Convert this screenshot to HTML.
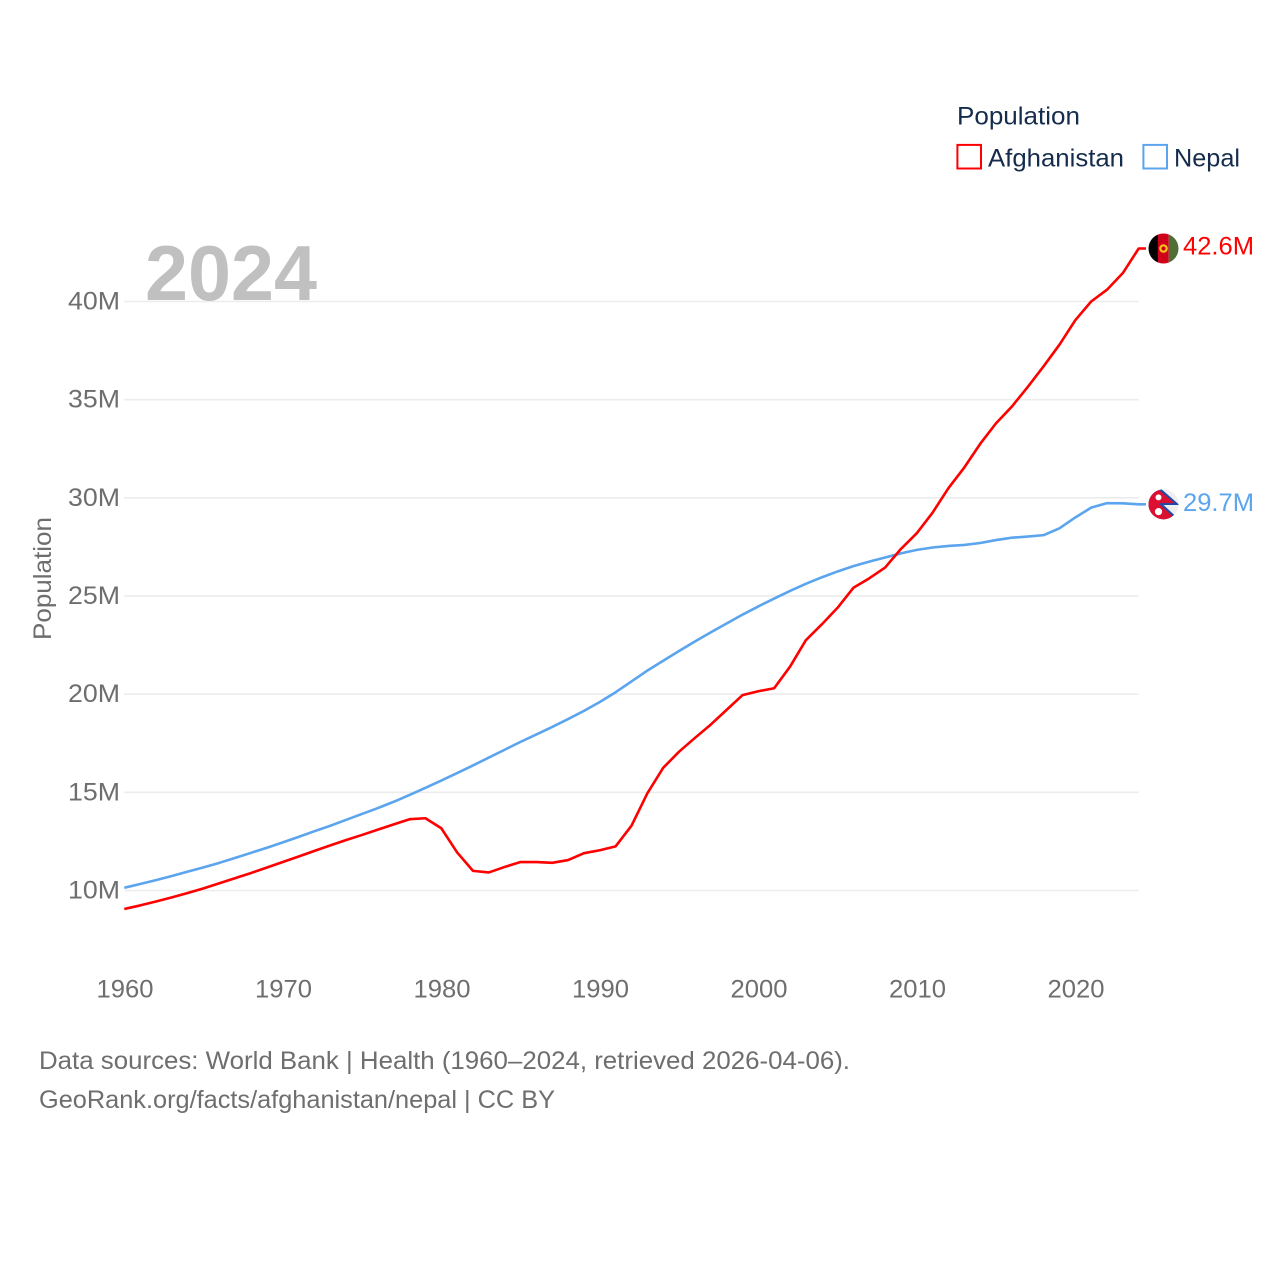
<!DOCTYPE html>
<html lang="en">
<head>
<meta charset="utf-8">
<title>Population: Afghanistan and Nepal</title>
<style>
html,body{margin:0;padding:0;background:#fff;width:1280px;height:1280px;overflow:hidden}
svg{display:block}
text{font-family:"Liberation Sans",sans-serif}
</style>
</head>
<body>
<svg id="chart" xmlns="http://www.w3.org/2000/svg" width="1280" height="1280" viewBox="0 0 1280 1280">
  <defs>
    <clipPath id="flag-clip"><circle cx="0" cy="0" r="15"/></clipPath>
  </defs>
  <rect x="0" y="0" width="1280" height="1280" fill="#fff"/>
  <g id="grid"></g>
  <g id="yticks"></g>
  <g id="xticks"></g>
  <text x="145" y="300" font-size="78" font-weight="700" fill="#c0c0c0" textLength="172" lengthAdjust="spacingAndGlyphs">2024</text>
  <text transform="translate(51,640) rotate(-90)" font-size="25" fill="#6e6e6e" textLength="123" lengthAdjust="spacingAndGlyphs">Population</text>
  <g id="series"></g>
  <g id="ends"></g>
  <g>
    <text x="957" y="124.5" font-size="25" fill="#152c4c" textLength="123" lengthAdjust="spacingAndGlyphs">Population</text>
    <rect x="957.4" y="144.9" width="23.6" height="23.6" fill="none" stroke="#ff0000" stroke-width="2"/>
    <text x="988" y="166.5" font-size="25" fill="#152c4c" textLength="136" lengthAdjust="spacingAndGlyphs">Afghanistan</text>
    <rect x="1143.4" y="144.9" width="23.6" height="23.6" fill="none" stroke="#5ba4ee" stroke-width="2"/>
    <text x="1174" y="166.5" font-size="25" fill="#152c4c" textLength="66" lengthAdjust="spacingAndGlyphs">Nepal</text>
  </g>
  <text x="39" y="1069" font-size="25" fill="#6e6e6e" textLength="811" lengthAdjust="spacingAndGlyphs">Data sources: World Bank | Health (1960–2024, retrieved 2026-04-06).</text>
  <text x="39" y="1108" font-size="25" fill="#6e6e6e" textLength="516" lengthAdjust="spacingAndGlyphs">GeoRank.org/facts/afghanistan/nepal | CC BY</text>
</svg>
<script>
const years = [1960,1961,1962,1963,1964,1965,1966,1967,1968,1969,1970,1971,1972,1973,1974,1975,1976,1977,1978,1979,1980,1981,1982,1983,1984,1985,1986,1987,1988,1989,1990,1991,1992,1993,1994,1995,1996,1997,1998,1999,2000,2001,2002,2003,2004,2005,2006,2007,2008,2009,2010,2011,2012,2013,2014,2015,2016,2017,2018,2019,2020,2021,2022,2023,2024];
const afghanistan = [9.06,9.24,9.44,9.65,9.87,10.11,10.37,10.63,10.89,11.17,11.45,11.73,12.02,12.3,12.57,12.83,13.1,13.37,13.63,13.68,13.17,11.94,11.0,10.92,11.2,11.45,11.45,11.41,11.55,11.9,12.05,12.25,13.3,14.95,16.25,17.07,17.77,18.45,19.2,19.95,20.15,20.3,21.4,22.75,23.55,24.4,25.42,25.9,26.45,27.4,28.2,29.25,30.5,31.55,32.75,33.8,34.65,35.65,36.7,37.8,39.05,40.0,40.6,41.45,42.7];
const nepal = [10.14,10.33,10.53,10.74,10.96,11.18,11.41,11.66,11.92,12.18,12.45,12.73,13.02,13.3,13.6,13.9,14.2,14.52,14.87,15.23,15.6,15.98,16.37,16.77,17.17,17.57,17.95,18.33,18.73,19.15,19.6,20.1,20.65,21.2,21.7,22.2,22.68,23.15,23.6,24.05,24.47,24.87,25.26,25.62,25.95,26.25,26.52,26.75,26.96,27.17,27.35,27.47,27.55,27.6,27.7,27.85,27.97,28.03,28.1,28.45,29.0,29.5,29.73,29.72,29.67];
const yTickValues = [10,15,20,25,30,35,40];
const yTickLabels = ['10M','15M','20M','25M','30M','35M','40M'];
const xTickValues = [1960,1970,1980,1990,2000,2010,2020];
const xTickLabels = ['1960','1970','1980','1990','2000','2010','2020'];
const endLabels = ['42.6M','29.7M'];

const NS = 'http://www.w3.org/2000/svg';
const xScale = year => 124.3 + (year - 1960) * 15.85;
const yScale = value => 890.5 - (value - 10) * 19.633;

function make(tag, attrs, parent) {
  const el = document.createElementNS(NS, tag);
  for (const k in attrs) el.setAttribute(k, attrs[k]);
  parent.appendChild(el);
  return el;
}

const grid = document.getElementById('grid');
const yticks = document.getElementById('yticks');
const xticks = document.getElementById('xticks');
const seriesGroup = document.getElementById('series');
const ends = document.getElementById('ends');

yTickValues.forEach((v, i) => {
  const line = make('line', {x1: xScale(1960), x2: xScale(2024), y1: yScale(v), y2: yScale(v), stroke: '#ececec', 'stroke-width': 1.6}, grid);
  
  
  const t = make('text', {x: 120, y: yScale(v) + 8, 'text-anchor': 'end', 'font-size': 25, fill: '#6e6e6e', textLength: 52, lengthAdjust: 'spacingAndGlyphs'}, yticks);
  
  
  t.textContent = yTickLabels[i];
});

xTickValues.forEach((v, i) => {
  const t = make('text', {x: xScale(v) - 27.8, y: 997.5, 'font-size': 25, fill: '#6e6e6e', textLength: 57, lengthAdjust: 'spacingAndGlyphs'}, xticks);
  
  
  t.textContent = xTickLabels[i];
});

function drawLine(values, color) {
  const pts = values.map((v, i) => xScale(years[i]).toFixed(2) + ',' + yScale(v).toFixed(2));
  const lastY = yScale(values[values.length - 1]).toFixed(2);
  pts.push('1146,' + lastY);
  const line = make('polyline', {points: pts.join(' '), fill: 'none', stroke: color, 'stroke-width': 2.6, 'stroke-linejoin': 'round'}, seriesGroup);
  return line;
}

const nepalLine = drawLine(nepal, '#5ba4ee');


const afghanLine = drawLine(afghanistan, '#ff0000');



function flagGroup(value) {
  return make('g', {transform: 'translate(1163.5,' + yScale(value).toFixed(2) + ')', 'clip-path': 'url(#flag-clip)'}, ends);
}

const afgFlag = flagGroup(afghanistan[afghanistan.length - 1]);


make('rect', {x: -15, y: -15, width: 10, height: 30, fill: '#000'}, afgFlag);
make('rect', {x: -5.7, y: -15, width: 11, height: 30, fill: '#d0021b'}, afgFlag);
make('rect', {x: 5.3, y: -15, width: 10, height: 30, fill: '#4f6f35'}, afgFlag);
make('circle', {cx: 0, cy: 0, r: 3.2, fill: 'none', stroke: '#f5c518', 'stroke-width': 2.2}, afgFlag);

const nepFlag = flagGroup(nepal[nepal.length - 1]);


make('rect', {x: -15, y: -15, width: 30, height: 30, fill: '#efefef'}, nepFlag);
make('polygon', {points: '-15,-20 -3,-16 16,0.7 0,0.7 15,14.5 13,17 -15,17', fill: '#1f4aa8'}, nepFlag);
make('polygon', {points: '-15,-20 -4,-14 11,-1.2 -3.5,-1.2 -3.5,0.5 11,13.5 11,17 -15,17', fill: '#dc0f30'}, nepFlag);
make('circle', {cx: -5, cy: -7, r: 3, fill: '#fff'}, nepFlag);
make('circle', {cx: -5, cy: 7.3, r: 3.6, fill: '#fff'}, nepFlag);

const redLabel = make('text', {x: 1183, y: yScale(afghanistan[afghanistan.length - 1]) + 6, 'font-size': 25, fill: '#ff0000', textLength: 71, lengthAdjust: 'spacingAndGlyphs'}, ends);


redLabel.textContent = endLabels[0];

const blueLabel = make('text', {x: 1183, y: yScale(nepal[nepal.length - 1]) + 6.5, 'font-size': 25, fill: '#5ba4ee', textLength: 71, lengthAdjust: 'spacingAndGlyphs'}, ends);


blueLabel.textContent = endLabels[1];
</script>
</body>
</html>
